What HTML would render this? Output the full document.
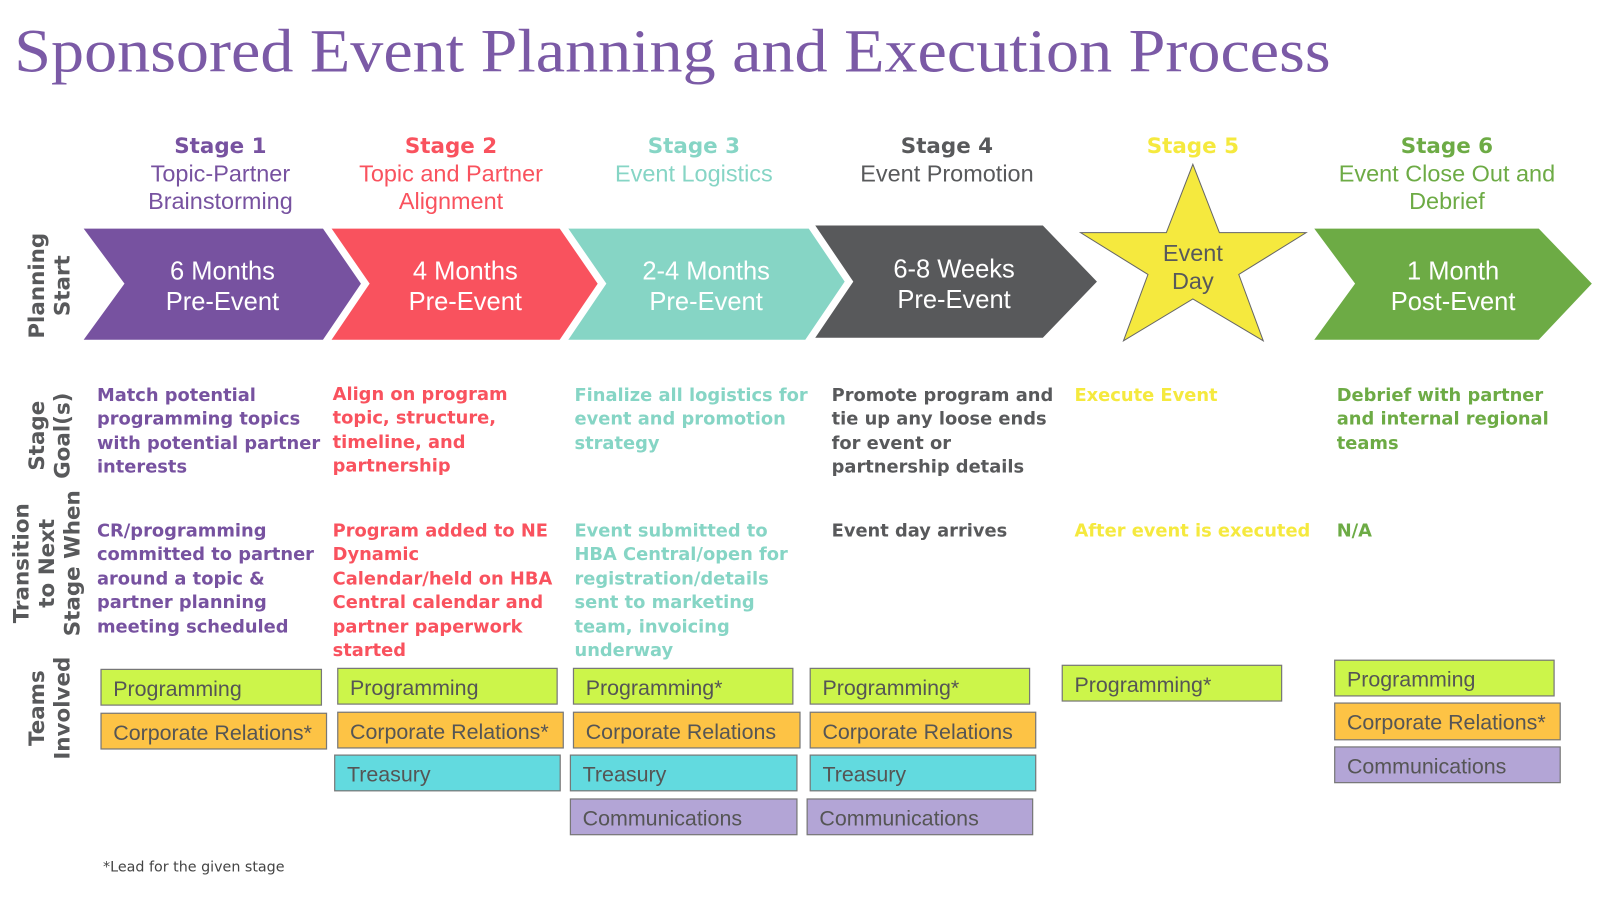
<!DOCTYPE html>
<html><head><meta charset="utf-8"><style>
html,body{margin:0;padding:0;background:#fff;}
svg{display:block}
.h{font-family:"DejaVu Sans","Liberation Sans",sans-serif;font-weight:bold;font-size:21px;text-anchor:middle}
.s{font-family:"Liberation Sans",sans-serif;font-size:23px;text-anchor:middle}
.a{font-family:"Liberation Sans",sans-serif;font-size:25px;text-anchor:middle;fill:#fff}
.g{font-family:"DejaVu Sans",sans-serif;font-weight:bold;font-size:17.5px}
.r{font-family:"DejaVu Sans",sans-serif;font-weight:bold;font-size:21px;fill:#58595B;text-anchor:middle}
.t{font-family:"Liberation Sans",sans-serif;font-size:21px;fill:#555}
.b{stroke:#777;stroke-width:1.2}
.w{stroke:#fff;stroke-width:7;fill:none;stroke-linejoin:miter}
</style></head><body>
<svg width="1600" height="900" viewBox="0 0 1568 882" preserveAspectRatio="none" xmlns="http://www.w3.org/2000/svg">
<text x="14" y="70" font-family="Liberation Serif,serif" font-size="60" fill="#7B5AA6" textLength="1290" lengthAdjust="spacingAndGlyphs">Sponsored Event Planning and Execution Process</text>

<g class="h"><text x="216" y="150" fill="#7752A0">Stage 1</text><text x="442" y="150" fill="#F9525E">Stage 2</text><text x="680" y="150" fill="#86D5C5">Stage 3</text><text x="928" y="150" fill="#58595B">Stage 4</text><text x="1169" y="150" fill="#F5E93E">Stage 5</text><text x="1418" y="150" fill="#6DAB45">Stage 6</text></g>
<g class="s">
<text x="216" y="178" fill="#7752A0">Topic-Partner</text><text x="216" y="205" fill="#7752A0">Brainstorming</text>
<text x="442" y="178" fill="#F9525E">Topic and Partner</text><text x="442" y="205" fill="#F9525E">Alignment</text>
<text x="680" y="178" fill="#86D5C5">Event Logistics</text>
<text x="928" y="178" fill="#58595B">Event Promotion</text>
<text x="1418" y="178" fill="#6DAB45">Event Close Out and</text><text x="1418" y="205" fill="#6DAB45">Debrief</text>
</g>

<polygon points="82,224 318,224 358,278 318,333 82,333 122,278" fill="#7752A0"/>
<polygon points="322,224 553,224 593,278 553,333 322,333 362,278" fill="#F9525E"/>
<polyline class="w" points="318,220 358,278 318,337"/>
<polygon points="554,224 793,224 833,278 793,333 554,333 594,278" fill="#86D5C5"/>
<polyline class="w" points="550,220 590,278 550,337"/>
<polygon points="796,221 1022,221 1075,276 1022,331 796,331 836,276" fill="#58595B"/>
<polyline class="w" points="792,217 832,276 792,335"/>
<polygon points="1169,161 1195,228 1280,228 1214,269 1238,334 1169,293 1101,334 1125,269 1059,228 1143,228" fill="#F5E93E" stroke="#666" stroke-width="1"/>
<polygon points="1288,224 1508,224 1560,278 1508,333 1288,333 1328,278" fill="#6DAB45"/>
<g class="a">
<text x="218" y="274">6 Months</text><text x="218" y="304">Pre-Event</text>
<text x="456" y="274">4 Months</text><text x="456" y="304">Pre-Event</text>
<text x="692" y="274">2-4 Months</text><text x="692" y="304">Pre-Event</text>
<text x="935" y="272">6-8 Weeks</text><text x="935" y="302">Pre-Event</text>
<text x="1424" y="274">1 Month</text><text x="1424" y="304">Post-Event</text>
</g>
<text x="1169" y="256" class="s" fill="#58595B">Event</text><text x="1169" y="283" class="s" fill="#58595B">Day</text>

<g class="r">
<text transform="translate(43,280) rotate(-90)">Planning</text><text transform="translate(68,280) rotate(-90)">Start</text>
<text transform="translate(43,427) rotate(-90)">Stage</text><text transform="translate(68,427) rotate(-90)">Goal(s)</text>
<text transform="translate(28,552) rotate(-90)">Transition</text><text transform="translate(53,552) rotate(-90)">to Next</text><text transform="translate(78,552) rotate(-90)">Stage When</text>
<text transform="translate(43,694) rotate(-90)">Teams</text><text transform="translate(68,694) rotate(-90)">Involved</text>
</g>

<g class="g">
<g fill="#7752A0"><text x="95" y="393">Match potential</text><text x="95" y="416">programming topics</text><text x="95" y="440">with potential partner</text><text x="95" y="463">interests</text>
<text x="95" y="526">CR/programming</text><text x="95" y="549">committed to partner</text><text x="95" y="573">around a topic &amp;</text><text x="95" y="596">partner planning</text><text x="95" y="620">meeting scheduled</text></g>
<g fill="#F9525E"><text x="326" y="392">Align on program</text><text x="326" y="415">topic, structure,</text><text x="326" y="439">timeline, and</text><text x="326" y="462">partnership</text>
<text x="326" y="526">Program added to NE</text><text x="326" y="549">Dynamic</text><text x="326" y="573">Calendar/held on HBA</text><text x="326" y="596">Central calendar and</text><text x="326" y="620">partner paperwork</text><text x="326" y="643">started</text></g>
<g fill="#86D5C5"><text x="563" y="393">Finalize all logistics for</text><text x="563" y="416">event and promotion</text><text x="563" y="440">strategy</text>
<text x="563" y="526">Event submitted to</text><text x="563" y="549">HBA Central/open for</text><text x="563" y="573">registration/details</text><text x="563" y="596">sent to marketing</text><text x="563" y="620">team, invoicing</text><text x="563" y="643">underway</text></g>
<g fill="#58595B"><text x="815" y="393">Promote program and</text><text x="815" y="416">tie up any loose ends</text><text x="815" y="440">for event or</text><text x="815" y="463">partnership details</text>
<text x="815" y="526">Event day arrives</text></g>
<g fill="#F5E93E"><text x="1053" y="393">Execute Event</text><text x="1053" y="526">After event is executed</text></g>
<g fill="#6DAB45"><text x="1310" y="393">Debrief with partner</text><text x="1310" y="416">and internal regional</text><text x="1310" y="440">teams</text><text x="1310" y="526">N/A</text></g>
</g>

<g class="b">
<rect x="99" y="656" width="216" height="35" fill="#CCF54A"/><rect x="99" y="699" width="221" height="35" fill="#FDC345"/>
<rect x="331" y="655" width="215" height="35" fill="#CCF54A"/><rect x="331" y="698" width="221" height="35" fill="#FDC345"/><rect x="328" y="740" width="221" height="35" fill="#62DADF"/>
<rect x="562" y="655" width="215" height="35" fill="#CCF54A"/><rect x="562" y="698" width="222" height="35" fill="#FDC345"/><rect x="559" y="740" width="222" height="35" fill="#62DADF"/><rect x="559" y="783" width="222" height="35" fill="#B3A5D6"/>
<rect x="794" y="655" width="215" height="35" fill="#CCF54A"/><rect x="794" y="698" width="221" height="35" fill="#FDC345"/><rect x="794" y="740" width="221" height="35" fill="#62DADF"/><rect x="791" y="783" width="221" height="35" fill="#B3A5D6"/>
<rect x="1041" y="652" width="215" height="35" fill="#CCF54A"/>
<rect x="1308" y="647" width="215" height="35" fill="#CCF54A"/><rect x="1308" y="689" width="221" height="36" fill="#FDC345"/><rect x="1308" y="732" width="221" height="35" fill="#B3A5D6"/>
</g>
<g class="t">
<text x="111" y="682">Programming</text><text x="111" y="725">Corporate Relations*</text>
<text x="343" y="681">Programming</text><text x="343" y="724">Corporate Relations*</text><text x="340" y="766">Treasury</text>
<text x="574" y="681">Programming*</text><text x="574" y="724">Corporate Relations</text><text x="571" y="766">Treasury</text><text x="571" y="809">Communications</text>
<text x="806" y="681">Programming*</text><text x="806" y="724">Corporate Relations</text><text x="806" y="766">Treasury</text><text x="803" y="809">Communications</text>
<text x="1053" y="678">Programming*</text>
<text x="1320" y="673">Programming</text><text x="1320" y="715">Corporate Relations*</text><text x="1320" y="758">Communications</text>
</g>
<text x="101" y="854" font-family="DejaVu Sans,sans-serif" font-size="14" fill="#444">*Lead for the given stage</text>
</svg>
</body></html>
